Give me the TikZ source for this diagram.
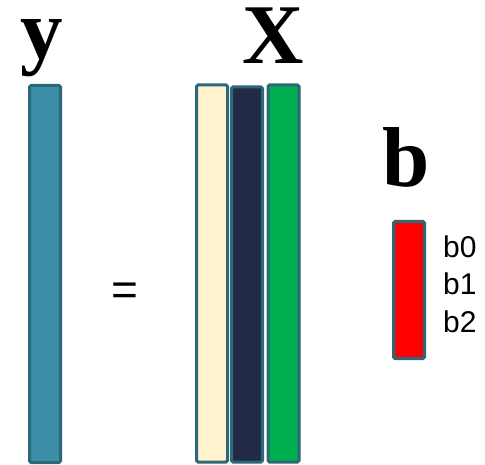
\documentclass[tikz,border=0pt]{standalone}
\usepackage{fontspec}
\setmainfont{Liberation Serif}
\setsansfont{Liberation Sans}
\definecolor{barEdge}{HTML}{2B6878}
\definecolor{yTeal}{HTML}{3B8EA5}
\definecolor{xCream}{HTML}{FFF2CC}
\definecolor{xNavy}{HTML}{222A45}
\definecolor{xGreen}{HTML}{00B050}
\definecolor{bRed}{HTML}{FF0000}
\usetikzlibrary{positioning}

\begin{document}
\begin{tikzpicture}[x=1pt,y=-1pt,
  bar/.style={draw=barEdge,line width=3pt,rounded corners=1.5pt,inner sep=0pt,minimum width=31pt},
  bigsym/.style={font=\fontsize{85}{85}\selectfont\bfseries,inner sep=0pt,anchor=base,text height=0.66em},
  coef/.style={font=\fontsize{30}{30}\selectfont\sffamily,inner sep=0pt,anchor=base west}]
  \useasboundingbox (0,0) rectangle (485,465);
  % response vector
  \node[bar,fill=yTeal,minimum height=377pt] (yvec) at (45,274) {};
  \node[bigsym] (ylab) at (42,59) {y};
  \node[font=\fontsize{46}{46}\selectfont\sffamily,inner sep=0pt] (eq) at (125,294) {=};
  % design matrix columns
  \foreach \n/\x/\t/\fill in {xa/212/84/xCream,xb/247/86/xNavy,xc/283.5/84/xGreen}
    \node[bar,fill=\fill,minimum height={377-(\t-84)}] (\n) at (\x,{(\t+463)/2}) {};
  \node[bigsym] (xlab) at (273,64) {X};
  % coefficients
  \node[bar,fill=bRed,minimum height=137pt] (bvec) at (409,290) {};
  \node[bigsym] (blab) at (406,187) {b};
  \foreach \k/\y in {0/258,1/295,2/332}
    \node[coef] (b\k) at (443,\y) {b\k};
\end{tikzpicture}
\end{document}
